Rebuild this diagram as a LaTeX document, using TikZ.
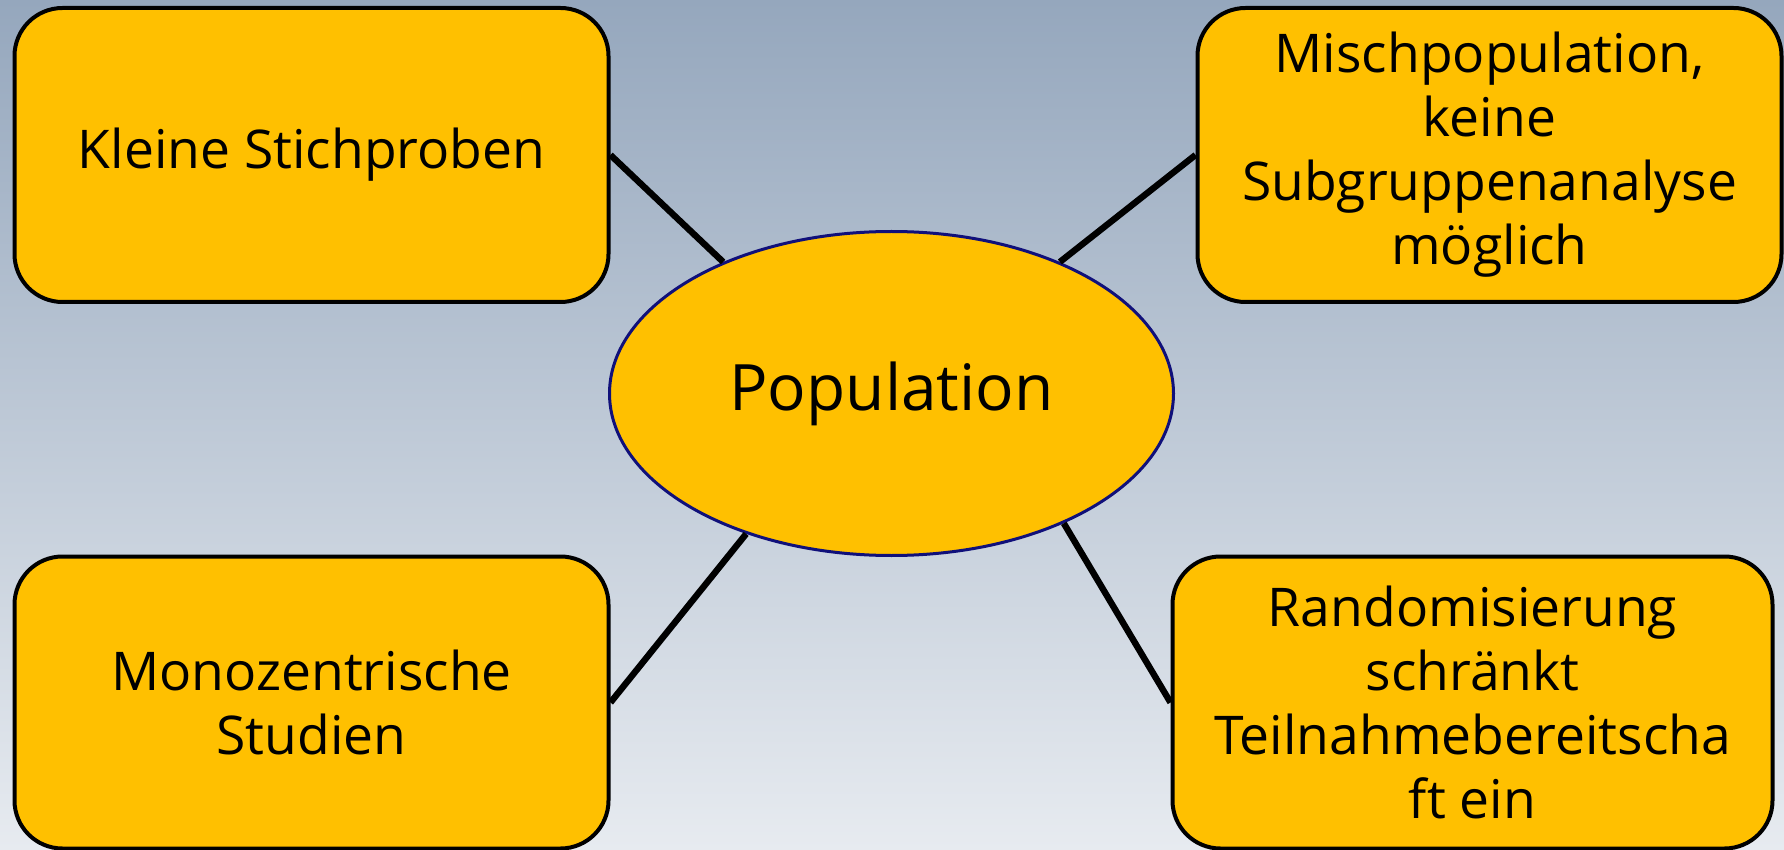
\documentclass[tikz,border=0pt]{standalone}
\usepackage{fontspec}
\setmainfont{Open Sans}
\usetikzlibrary{shapes.geometric}
\definecolor{bgtop}{HTML}{95A7BD}
\definecolor{bgbottom}{HTML}{E7EBF0}
\definecolor{boxfill}{HTML}{FFC000}
\definecolor{navy}{HTML}{10107A}
\begin{document}
\begin{tikzpicture}[x=0.5pt,y=-0.5pt,
  topicbox/.style={draw=black, line width=2pt, fill=boxfill, rounded corners=24pt,
    align=center, inner sep=0pt, font=\fontsize{26.7pt}{32pt}\selectfont},
  hub/.style={ellipse, draw=navy, line width=1.5pt, fill=boxfill, inner sep=0pt,
    minimum width=282pt, minimum height=162pt, font=\fontsize{32pt}{38pt}\selectfont},
  link/.style={draw=black, line width=3.2pt}]
  % background
  \fill[top color=bgtop, bottom color=bgbottom] (0,0) rectangle (1784,850);
  \useasboundingbox (0,0) rectangle (1784,850);

  \node[hub] (pop) at (891.5,393.5) {Population};

  \node[topicbox, minimum width=297pt, minimum height=147pt] (tl) at (311.5,155)
    {Kleine Stichproben};
  \node[topicbox, minimum width=292pt, minimum height=147pt] (tr) at (1489.5,155)
    {Mischpopulation,\\keine\\Subgruppenanalyse\\möglich};
  \node[topicbox, minimum width=297pt, minimum height=146pt] (bl) at (311.5,702.5)
    {Monozentrische\\Studien};
  \node[topicbox, minimum width=300pt, minimum height=146pt] (br) at (1472.5,702.5)
    {Randomisierung\\schränkt\\Teilnahmebereitscha\\ft ein};

  \draw[link] (tl.east) -- (pop.142);
  \draw[link] (tr.west) -- (pop.38);
  \draw[link] (bl.east) -- (pop.224);
  \draw[link] (br.west) -- (pop.-37.5);
\end{tikzpicture}
\end{document}
